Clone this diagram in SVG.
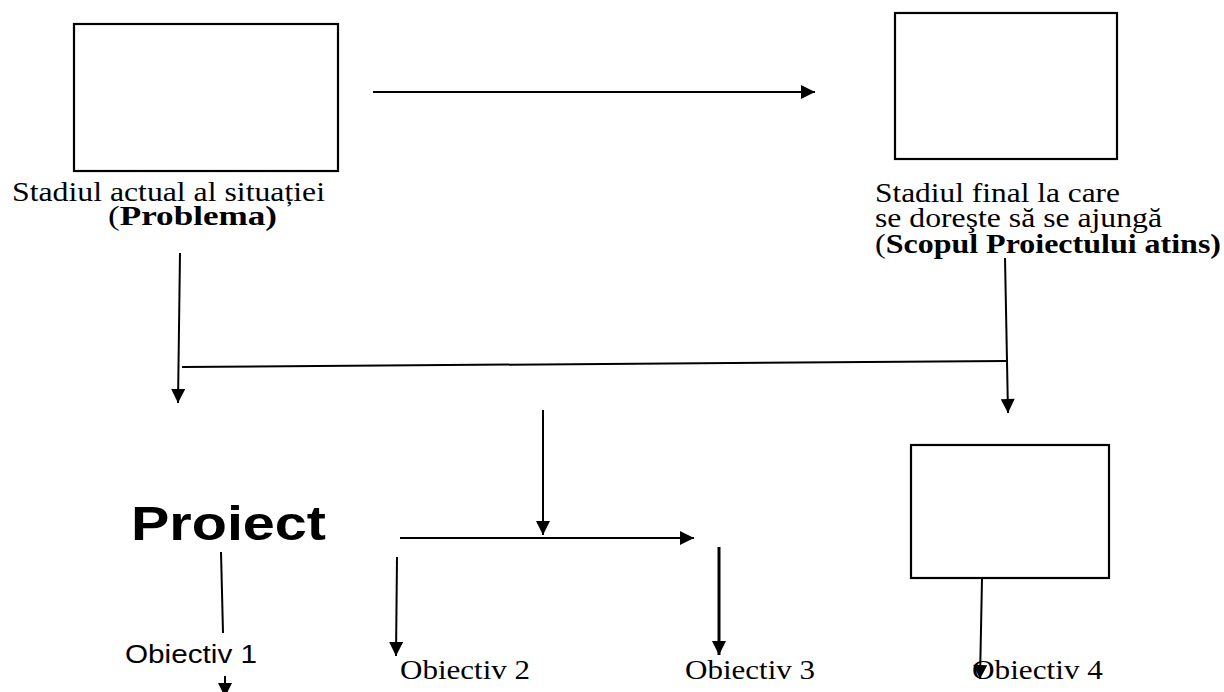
<svg xmlns="http://www.w3.org/2000/svg" width="1224" height="692" viewBox="0 0 1224 692">
  <style>
    .box { fill: #fff; stroke: #000; stroke-width: 2.2; }
    .serif { font-family: "Liberation Serif", "Times New Roman", serif; font-size: 28px; fill: #000; }
    .sans { font-family: "Liberation Sans", Arial, sans-serif; fill: #000; }
    .b { font-weight: bold; }
    .ln { fill: none; stroke: #000; stroke-width: 2; }
    .arr { fill: none; stroke: #000; stroke-width: 2; marker-end: url(#ah); }
  </style>
  <defs>
    <marker id="ah" viewBox="0 0 10 10" refX="10" refY="5" markerWidth="15" markerHeight="14" markerUnits="userSpaceOnUse" orient="auto">
      <path d="M0,0 L10,5 L0,10 z" fill="#000"/>
    </marker>
  </defs>
  <rect width="1224" height="692" fill="#fff"/>

  <!-- current situation -->
  <g id="problema">
    <rect class="box" x="74" y="24" width="264" height="147"/>
    <text class="serif" x="12" y="201" textLength="313" lengthAdjust="spacingAndGlyphs">Stadiul actual al situației</text>
    <text class="serif" x="108" y="225" textLength="169" lengthAdjust="spacingAndGlyphs">(<tspan class="b">Problema)</tspan></text>
  </g>

  <!-- final state -->
  <g id="scop">
    <rect class="box" x="895" y="13" width="222" height="146"/>
    <text class="serif" x="875" y="202" textLength="245" lengthAdjust="spacingAndGlyphs">Stadiul final la care</text>
    <text class="serif" x="875" y="227" textLength="287" lengthAdjust="spacingAndGlyphs">se doreşte să se ajungă</text>
    <text class="serif" x="875" y="253" textLength="346" lengthAdjust="spacingAndGlyphs">(<tspan class="b">Scopul Proiectului atins)</tspan></text>
  </g>

  <g id="proiect">
    <text class="sans b" x="131" y="540" font-size="48" textLength="195" lengthAdjust="spacingAndGlyphs">Proiect</text>
  </g>

  <g id="box-obiectiv4">
    <rect class="box" x="911" y="445" width="198" height="133"/>
  </g>

  <g id="obiectiv1">
    <text class="sans" x="125" y="663" font-size="25" textLength="132" lengthAdjust="spacingAndGlyphs">Obiectiv 1</text>
  </g>
  <g id="obiectiv2">
    <text class="serif" x="400" y="679" textLength="130" lengthAdjust="spacingAndGlyphs">Obiectiv 2</text>
  </g>
  <g id="obiectiv3">
    <text class="serif" x="685" y="679" textLength="130" lengthAdjust="spacingAndGlyphs">Obiectiv 3</text>
  </g>
  <g id="obiectiv4">
    <text class="serif" x="972" y="679" textLength="131" lengthAdjust="spacingAndGlyphs">Obiectiv 4</text>
  </g>

  <g id="connectors">
    <line class="arr" x1="373" y1="92" x2="815" y2="92"/>
    <line class="arr" x1="180" y1="253" x2="178" y2="403"/>
    <line class="ln" x1="182" y1="367" x2="1006" y2="361"/>
    <line class="arr" x1="1005" y1="258" x2="1008" y2="413"/>
    <line class="arr" x1="543" y1="410" x2="543" y2="535"/>
    <line class="arr" x1="400" y1="538" x2="694" y2="538"/>
    <line class="arr" x1="397" y1="557" x2="396" y2="656"/>
    <line class="arr" x1="719" y1="547" x2="719" y2="655" style="stroke-width:3"/>
    <line class="ln" x1="221" y1="552" x2="223" y2="633"/>
    <line class="arr" x1="225" y1="676" x2="225" y2="697"/>
    <line class="arr" x1="982" y1="579" x2="980" y2="679"/>
  </g>
</svg>
